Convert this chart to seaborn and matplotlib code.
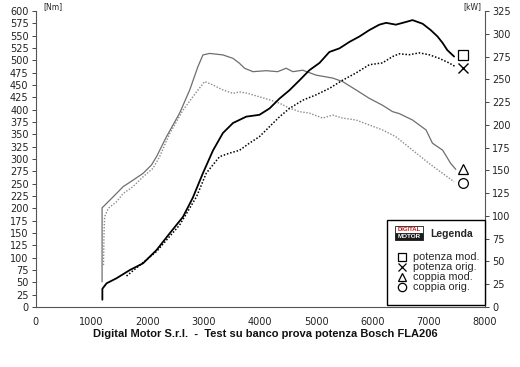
import matplotlib
matplotlib.use("Agg")
import matplotlib.pyplot as plt
from matplotlib.patches import Rectangle
from matplotlib.lines import Line2D
import seaborn as sns
import pandas as pd

# ---------------- data ----------------
tm_rpm = [1185, 1185, 1185, 1265, 1440, 1560, 1735, 1915, 2065, 2155, 2330, 2565, 2745, 2890,
          2980, 3100, 3335, 3515, 3630, 3720, 3870, 4105, 4310, 4460, 4580, 4755, 4995, 5290,
          5465, 5705, 5940, 6175, 6355, 6475, 6710, 6950, 7065, 7245, 7390, 7480]
tm_nm = [51, 126, 201, 210, 230, 244, 257, 271, 288, 305, 345, 393, 440, 487,
         511, 514, 511, 504, 494, 484, 477, 479, 477, 484, 477, 480, 470, 464,
         457, 440, 423, 409, 396, 392, 379, 359, 332, 318, 291, 279]

to_rpm = [1210, 1220, 1230, 1295, 1440, 1560, 1735, 1915, 2090, 2210, 2390, 2625, 2865, 3010,
          3160, 3335, 3515, 3630, 3780, 3985, 4165, 4345, 4520, 4700, 4875, 5110, 5290, 5465,
          5705, 5940, 6175, 6415, 6710, 7005, 7245, 7450]
to_nm = [85, 150, 183, 200, 213, 230, 244, 264, 281, 305, 352, 399, 436, 457,
         450, 440, 433, 436, 433, 426, 420, 413, 403, 396, 393, 383, 389, 383,
         379, 369, 359, 345, 318, 291, 271, 254]

pm_rpm = [1190, 1190, 1265, 1440, 1680, 1915, 2155, 2390, 2625, 2800, 2980, 3160, 3335, 3515,
          3750, 3985, 4165, 4345, 4520, 4700, 4875, 5055, 5230, 5410, 5585, 5765, 5940, 6120,
          6240, 6415, 6595, 6710, 6890, 7035, 7155, 7245, 7330, 7450]
pm_kw = [8, 20, 26, 31.5, 40.6, 48, 62.6, 81, 99, 120, 147, 172, 191, 202,
         209, 211, 218, 229, 238, 249, 260, 268, 280, 284, 291, 297, 304, 310,
         312, 310, 313, 315, 311, 304, 297, 290, 282, 275]

po_rpm = [1620, 2155, 2565, 2865, 3040, 3275, 3455, 3630, 3810, 3985, 4165, 4345, 4520, 4755,
          4995, 5230, 5465, 5705, 5940, 6175, 6355, 6475, 6650, 6830, 7005, 7185, 7360, 7470]
po_kw = [34, 61, 90, 121, 147, 165, 169, 172, 180, 187, 198, 209, 218, 227,
         233, 240, 249, 257, 266, 268, 275, 278, 277, 279, 277, 273, 268, 264]

marker_rpm = 7600
end_pm_kw = 277
end_po_kw = 262
end_tm_nm = 279
end_to_nm = 251

x_ticks = [0, 1000, 2000, 3000, 4000, 5000, 6000, 7000, 8000]
nm_ticks = list(range(0, 601, 25))
kw_ticks = list(range(0, 326, 25))

legend_labels = ["potenza mod.", "potenza orig.", "coppia mod.", "coppia orig."]
title_text = "Digital Motor S.r.l.  -  Test su banco prova potenza Bosch FLA206"

# ---------------- style ----------------
sns.set_style("white")
plt.rcParams['font.family'] = ['DejaVu Sans']

fig = plt.figure(figsize=(5.2, 3.67), dpi=100)
L, R, B, T = 35.5 / 520, 485 / 520, 1 - 307 / 367, 1 - 11 / 367
ax = fig.add_axes([L, B, R - L, T - B])
ax2 = ax.twinx()

df_tm = pd.DataFrame({"rpm": tm_rpm, "v": tm_nm})
df_to = pd.DataFrame({"rpm": to_rpm, "v": to_nm})
df_pm = pd.DataFrame({"rpm": pm_rpm, "v": pm_kw})
df_po = pd.DataFrame({"rpm": po_rpm, "v": po_kw})

sns.lineplot(data=df_tm, x="rpm", y="v", ax=ax, sort=False, estimator=None,
             color="#6e6e6e", lw=0.9)
sns.lineplot(data=df_to, x="rpm", y="v", ax=ax, sort=False, estimator=None,
             color="#8a8a8a", lw=1.0, linestyle=(0, (1, 1.2)))
sns.lineplot(data=df_pm, x="rpm", y="v", ax=ax2, sort=False, estimator=None,
             color="black", lw=1.3)
sns.lineplot(data=df_po, x="rpm", y="v", ax=ax2, sort=False, estimator=None,
             color="black", lw=1.1, linestyle=(0, (1, 1.2)))

mk = dict(markersize=7, markerfacecolor="white", markeredgecolor="black",
          markeredgewidth=0.9, linestyle="none", clip_on=False)
ax2.plot([marker_rpm], [end_pm_kw], marker="s", **mk)
ax2.plot([marker_rpm], [end_po_kw], marker="x", markersize=7, color="black",
         markeredgewidth=1.0, linestyle="none", clip_on=False)
ax.plot([marker_rpm], [end_tm_nm], marker="^", **mk)
ax.plot([marker_rpm], [end_to_nm], marker="o", **mk)

ax.set_xlim(0, 8000)
ax.set_ylim(0, 600)
ax2.set_ylim(0, 325)
ax.set_xticks(x_ticks)
ax.set_xticklabels([str(t) for t in x_ticks])
ax.set_yticks(nm_ticks)
ax.set_yticklabels([str(t) for t in nm_ticks])
ax2.set_yticks(kw_ticks)
ax2.set_yticklabels([str(t) for t in kw_ticks])
ax.set_xlabel("")
ax.set_ylabel("")
ax2.set_ylabel("")

for a in (ax, ax2):
    a.spines["top"].set_visible(False)
    for s in ("left", "right", "bottom"):
        a.spines[s].set_color("#555555")
        a.spines[s].set_linewidth(0.8)
ax.spines["right"].set_visible(False)
ax2.spines["left"].set_visible(False)
ax2.spines["bottom"].set_visible(False)

ax.tick_params(axis="both", direction="out", length=3, width=0.7, color="#444444",
               labelsize=7, pad=2, labelcolor="#222222")
ax.tick_params(axis="x", pad=4)
ax2.tick_params(axis="y", direction="out", length=3, width=0.7, color="#444444",
                labelsize=7, pad=2, labelcolor="#222222")

fig.text(43 / 520, 1 - 7 / 367, "[Nm]", fontsize=5.5, va="center", ha="left",
         color="#222222")
fig.text(481 / 520, 1 - 7 / 367, "[kW]", fontsize=5.5, va="center", ha="right",
         color="#222222")

# ---------------- legend box ----------------
lx0, lx1 = 387 / 520, 485 / 520
ly0, ly1 = 1 - 305 / 367, 1 - 220 / 367
fig.patches.append(Rectangle((lx0, ly0), lx1 - lx0, ly1 - ly0, transform=fig.transFigure,
                             facecolor="white", edgecolor="black", lw=1.0, zorder=5))
# logo
fig.patches.append(Rectangle((395 / 520, 1 - 240 / 367), 28 / 520, 7 / 367,
                             transform=fig.transFigure, facecolor="#1a1a1a",
                             edgecolor="#1a1a1a", lw=0.6, zorder=6))
fig.patches.append(Rectangle((395 / 520, 1 - 233 / 367), 28 / 520, 7 / 367,
                             transform=fig.transFigure, facecolor="white",
                             edgecolor="#1a1a1a", lw=0.6, zorder=6))
fig.text(409 / 520, 1 - 229.5 / 367, "DIGITAL", fontsize=4.3, fontweight="bold",
         family=["Liberation Sans", "DejaVu Sans"],
         color="#d01010", ha="center", va="center", zorder=7)
fig.text(409 / 520, 1 - 236.5 / 367, "MOTOR", fontsize=4.5, fontweight="bold",
         family=["Liberation Sans", "DejaVu Sans"],
         color="white", ha="center", va="center", zorder=7)
fig.text(452 / 520, 1 - 234 / 367, "Legenda", fontsize=7.5, fontweight="bold",
         family=["Liberation Sans", "DejaVu Sans"], ha="center", va="center",
         zorder=7)

markers = [("s", dict(markerfacecolor="white")), ("x", dict()),
           ("^", dict(markerfacecolor="white")), ("o", dict(markerfacecolor="white"))]
rows = [256.7, 266.7, 276.7, 286.7]
for (m, kw), lab, yy in zip(markers, legend_labels, rows):
    fy = 1 - yy / 367
    fig.lines.append(Line2D([401.5 / 520], [fy], marker=m, markersize=6,
                            markeredgecolor="black", color="black", markeredgewidth=0.9,
                            transform=fig.transFigure, zorder=7, **kw))
    fig.text(413 / 520, fy, lab, fontsize=7.8, family=["Liberation Sans", "DejaVu Sans"],
             ha="left", va="center", zorder=7)

fig.text(265 / 520, 1 - 334 / 367, title_text, fontsize=8, fontweight="bold",
         family=["Liberation Sans", "DejaVu Sans"], ha="center", va="center",
         color="#111111")

fig.savefig("out.png", dpi=100, facecolor="white")
